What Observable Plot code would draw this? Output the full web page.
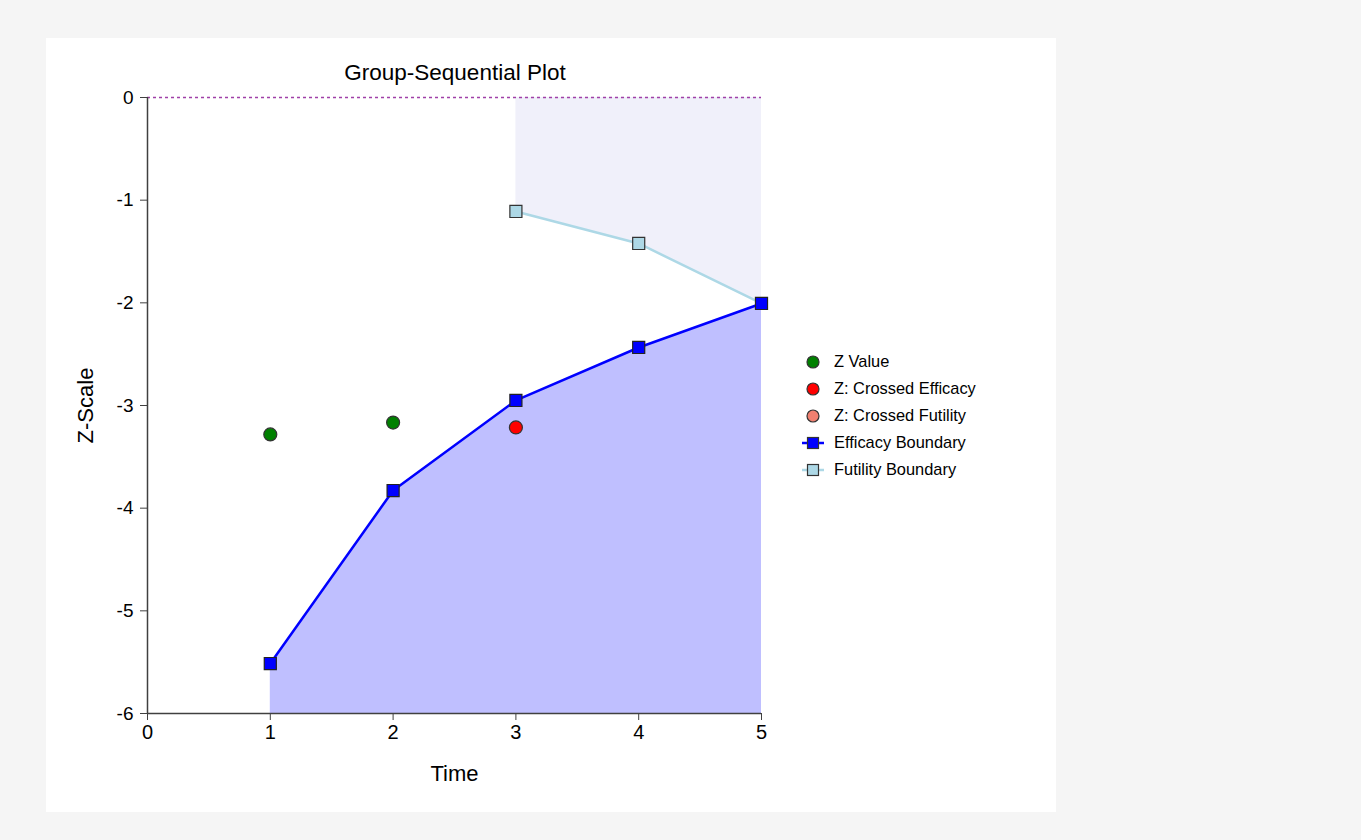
<!DOCTYPE html>
<html>
<head>
<meta charset="utf-8">
<script src="https://cdn.jsdelivr.net/npm/d3@7"></script>
<script src="https://cdn.jsdelivr.net/npm/@observablehq/plot@0.6"></script>
<style>
  html, body { margin: 0; padding: 0; background: #f5f5f5; font-family: "Liberation Sans", Arial, sans-serif; }
  #panel { position: absolute; left: 46px; top: 38px; width: 1010px; height: 774px; background: #ffffff; }
  #title { position: absolute; left: 0; width: 818px; top: 22px; line-height: 26px; text-align: center; font-size: 22.5px; color: #000; }
  #chart { position: absolute; left: 0; top: 42px; }
  #legend { position: absolute; left: 754px; top: 310px; font-size: 16.4px; color: #000; }
  .row { height: 27px; display: flex; align-items: center; }
  .row svg { margin-right: 6px; }
</style>
</head>
<body>
<div id="panel">
  <div id="title">Group-Sequential Plot</div>
  <div id="chart"></div>
  <div id="legend"></div>
</div>
<script>
const times = [1, 2, 3, 4, 5];
const efficacyBoundary = [-5.513, -3.828, -2.951, -2.435, -2.006];
const futilityTimes = [3, 4, 5];
const futilityBoundary = [-1.110, -1.422, -2.006];
const zTimes = [1, 2];
const zValues = [-3.282, -3.166];
const crossedEffTimes = [3];
const crossedEffValues = [-3.214];
const yTicks = [0, -1, -2, -3, -4, -5, -6];
const xTicks = [0, 1, 2, 3, 4, 5];

const eff = times.map((t, i) => ({t, z: efficacyBoundary[i]}));
const fut = futilityTimes.map((t, i) => ({t, z: futilityBoundary[i]}));
const zv = zTimes.map((t, i) => ({t, z: zValues[i]}));
const ce = crossedEffTimes.map((t, i) => ({t, z: crossedEffValues[i]}));

const axisColor = "#404040";
const chart = Plot.plot({
  width: 790,
  height: 718,
  marginLeft: 101,
  marginRight: 75,
  marginTop: 17,
  marginBottom: 85,
  style: {fontFamily: "Liberation Sans, Arial, sans-serif", fontSize: "19px", color: "#000", background: "transparent"},
  x: {domain: [0, 5]},
  y: {domain: [-6, 0]},
  marks: [
    Plot.areaY(fut, {x: "t", y1: "z", y2: () => 0, fill: "#f0f0fa"}),
    Plot.areaY(eff, {x: "t", y1: () => -6, y2: "z", fill: "#bfbfff"}),
    Plot.ruleY([0], {stroke: "#a040a8", strokeWidth: 1.3, strokeDasharray: "3,3"}),
    Plot.ruleX([0], {stroke: axisColor, strokeWidth: 1.5}),
    Plot.ruleY([-6], {stroke: axisColor, strokeWidth: 1.5}),
    Plot.line(fut, {x: "t", y: "z", stroke: "#add8e6", strokeWidth: 2.5}),
    Plot.line(eff, {x: "t", y: "z", stroke: "#0000ff", strokeWidth: 2.5}),
    Plot.dot(fut.slice(0, 2), {x: "t", y: "z", symbol: "square", r: 6.8, fill: "#add8e6", stroke: "#333", strokeWidth: 1.2}),
    Plot.dot(eff, {x: "t", y: "z", symbol: "square", r: 6.8, fill: "#0000ff", stroke: "#222", strokeWidth: 1.2}),
    Plot.dot(zv, {x: "t", y: "z", r: 6.5, fill: "#008000", stroke: "#333", strokeWidth: 1.2}),
    Plot.dot(ce, {x: "t", y: "z", r: 6.5, fill: "#ff0000", stroke: "#333", strokeWidth: 1.2}),
    Plot.axisY(yTicks, {tickSize: 7, tickPadding: 7, stroke: axisColor, fontSize: 19, tickFormat: d => String(d), label: "Z-Scale", labelAnchor: "center", labelArrow: "none", labelOffset: 70}),
    Plot.axisX(xTicks, {tickSize: 7, tickPadding: 4, stroke: axisColor, fontSize: 20, tickFormat: d => String(d), label: "Time", labelAnchor: "center", labelArrow: "none", labelOffset: 67})
  ]
});
document.getElementById("chart").appendChild(chart);

chart.querySelectorAll("[aria-label='y-axis tick label']").forEach(g => g.setAttribute("font-size", "19"));
chart.querySelectorAll("[aria-label='x-axis tick label']").forEach(g => g.setAttribute("font-size", "20"));
chart.querySelectorAll("[aria-label='y-axis label'], [aria-label='x-axis label']").forEach(g => g.setAttribute("font-size", "22"));

const legendItems = [
  {label: "Z Value", kind: "circle", fill: "#008000"},
  {label: "Z: Crossed Efficacy", kind: "circle", fill: "#ff0000"},
  {label: "Z: Crossed Futility", kind: "circle", fill: "#f08070"},
  {label: "Efficacy Boundary", kind: "line", fill: "#0000ff", line: "#0000ff"},
  {label: "Futility Boundary", kind: "line", fill: "#add8e6", line: "#add8e6"}
];
const leg = document.getElementById("legend");
legendItems.forEach(it => {
  const row = document.createElement("div");
  row.className = "row";
  let s = `<svg width="28" height="16" viewBox="0 0 28 16">`;
  if (it.kind === "circle") {
    s += `<circle cx="13" cy="8" r="6" fill="${it.fill}" stroke="#333" stroke-width="1.2"/>`;
  } else {
    s += `<line x1="2" y1="8" x2="24" y2="8" stroke="${it.line}" stroke-width="2.5"/>`;
    s += `<rect x="7.5" y="2.5" width="11" height="11" fill="${it.fill}" stroke="#333" stroke-width="1.2"/>`;
  }
  s += `</svg>`;
  row.innerHTML = s + `<span>${it.label}</span>`;
  leg.appendChild(row);
});
</script>
</body>
</html>
